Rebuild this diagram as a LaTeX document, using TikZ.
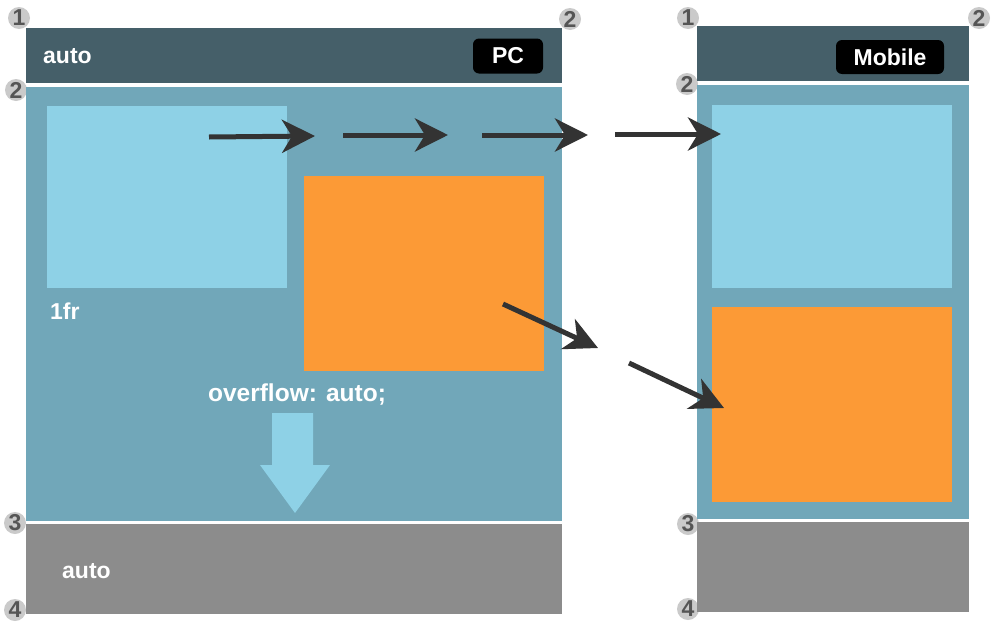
\documentclass[tikz,border=0pt]{standalone}
\usepackage{fontspec}
\setmainfont{Liberation Sans}
\usetikzlibrary{arrows.meta}
\definecolor{hdr}{HTML}{455F69}
\definecolor{body}{HTML}{71A7B9}
\definecolor{lightbox}{HTML}{8ED1E6}
\definecolor{orangebox}{HTML}{FC9A36}
\definecolor{foot}{HTML}{8C8C8C}
\definecolor{arr}{HTML}{333333}
\definecolor{numc}{HTML}{CACACA}
\definecolor{numt}{HTML}{555555}
\tikzset{
  blk/.style={draw=none, inner sep=0pt, outer sep=0pt, anchor=north west},
  lbl/.style={text=white, font=\fontsize{23}{27}\selectfont\bfseries, inner sep=0pt},
  badge/.style={fill=black, rounded corners=6pt, inner sep=0pt, text=white, font=\fontsize{23}{27}\selectfont\bfseries},
  num/.style={circle, fill=numc, minimum size=22pt, inner sep=0pt, text=numt, font=\fontsize{23}{26}\selectfont\bfseries},
  flowarrow/.style={draw=arr, line width=5pt, -{Stealth[length=33pt,width=33pt,inset=10pt]}},
}
\begin{document}
\begin{tikzpicture}[x=1pt,y=-1pt]
\useasboundingbox (0,0) rectangle (1000,640);
\fill[white] (0,0) rectangle (1000,640);
% number markers
\node[num] (n1a) at (19,18) {1};
\node[num] (n2a) at (570,19) {2};
\node[num] (n2b) at (16,90) {2};
\node[num] (n3a) at (15,523) {3};
\node[num] (n4a) at (15,610) {4};
\node[num] (n1b) at (688,18) {1};
\node[num] (n2c) at (979,18) {2};
\node[num] (n2d) at (687,84) {2};
\node[num] (n3b) at (688,524) {3};
\node[num] (n4b) at (688,609) {4};
% left panel
\node[blk, fill=hdr, minimum width=536pt, minimum height=55pt] (lhdr) at (26,28) {};
\node[blk, fill=body, minimum width=536pt, minimum height=434pt] (lbody) at (26,87) {};
\node[blk, fill=foot, minimum width=536pt, minimum height=90pt] (lfoot) at (26,524) {};
\node[blk, fill=lightbox, minimum width=240pt, minimum height=182pt] (lbox1) at (47,106) {};
\node[blk, fill=orangebox, minimum width=240pt, minimum height=195pt] (lbox2) at (304,176) {};
\node[lbl, anchor=west] (tauto1) at (43,56) {auto};
\node[badge, minimum width=70pt, minimum height=35pt] (pc) at (508,56) {PC};
\node[lbl, anchor=west] (tfr) at (50,311) {1fr};
\node[lbl, font=\fontsize{24.5}{28}\selectfont\bfseries] (tover) at (297,395) {overflow: auto;};
\node[lbl, anchor=west] (tauto2) at (62,571) {auto};
% down arrow
\fill[lightbox] (272,413) -- (313,413) -- (313,465) -- (330,465) -- (295,513) -- (260,465) -- (272,465) -- cycle;
% right panel
\node[blk, fill=hdr, minimum width=272pt, minimum height=55pt] (rhdr) at (697,26) {};
\node[blk, fill=body, minimum width=272pt, minimum height=434pt] (rbody) at (697,85) {};
\node[blk, fill=foot, minimum width=272pt, minimum height=90pt] (rfoot) at (697,522) {};
\node[blk, fill=lightbox, minimum width=240pt, minimum height=183pt] (rbox1) at (712,105) {};
\node[blk, fill=orangebox, minimum width=240pt, minimum height=195pt] (rbox2) at (712,307) {};
\node[badge, minimum width=108pt, minimum height=34pt] (mob) at (890,57) {Mobile};
% arrows
\coordinate (a1s) at (209,137); \coordinate (a1e) at (315,136);
\coordinate (a2s) at (343,135); \coordinate (a2e) at (448,135);
\coordinate (a3s) at (482,135); \coordinate (a3e) at (588,135);
\coordinate (a4s) at (615,134); \coordinate (a4e) at (721,134);
\coordinate (d1s) at (503,304); \coordinate (d1e) at (598,348);
\coordinate (d2s) at (629,363); \coordinate (d2e) at (724,408);
\draw[flowarrow] (a1s) -- (a1e);
\draw[flowarrow] (a2s) -- (a2e);
\draw[flowarrow] (a3s) -- (a3e);
\draw[flowarrow] (a4s) -- (a4e);
\draw[flowarrow] (d1s) -- (d1e);
\draw[flowarrow] (d2s) -- (d2e);
\end{tikzpicture}
\end{document}
